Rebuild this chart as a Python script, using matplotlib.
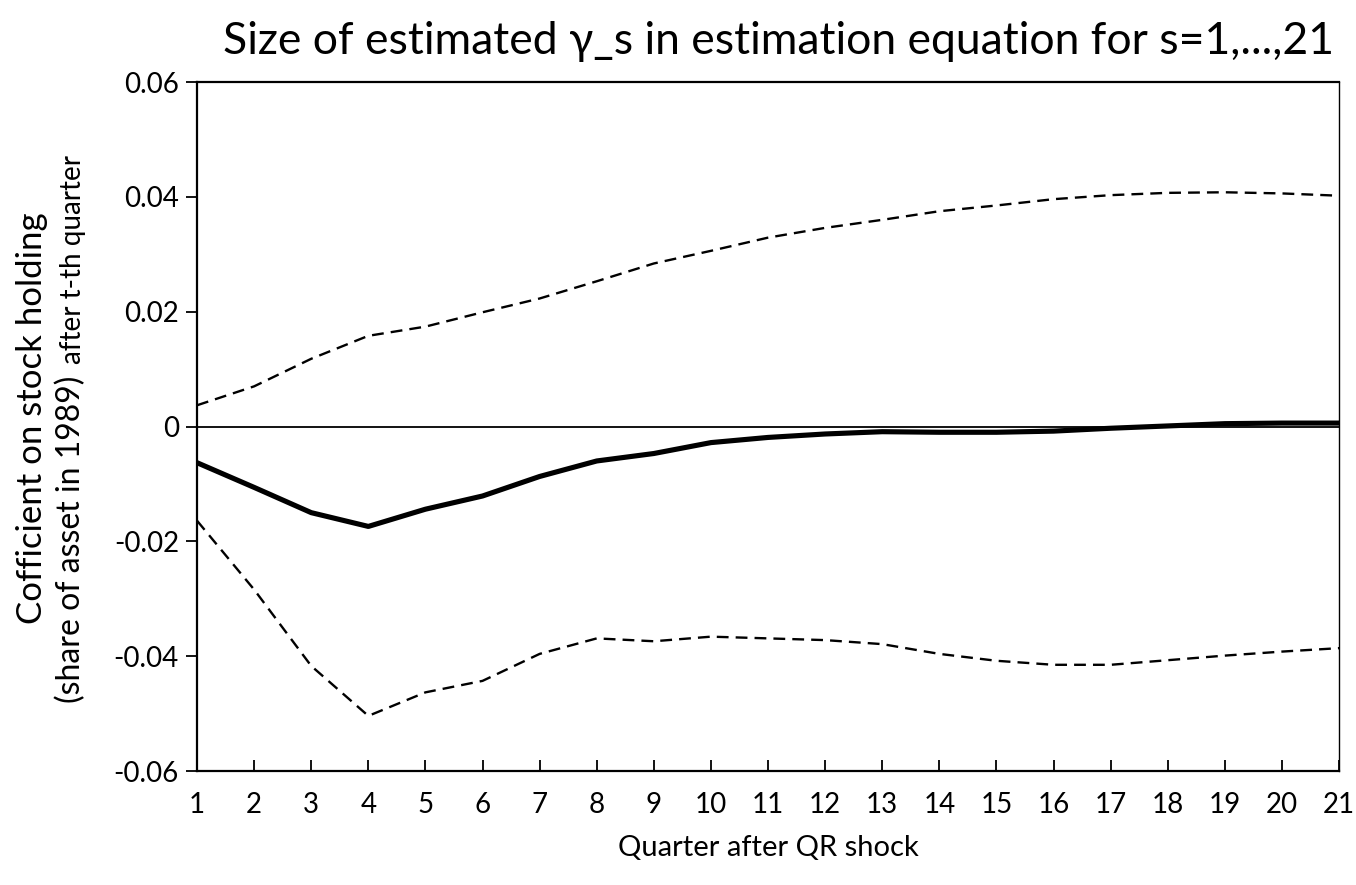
import numpy as np
from matplotlib import pyplot as plt

plt.rcParams['font.family'] = ['Lato', 'DejaVu Sans']

quarters = np.arange(1, 22)
gamma = [-0.0063, -0.0106, -0.0150, -0.0174, -0.0144, -0.0121, -0.0087,
         -0.0060, -0.0047, -0.0028, -0.0019, -0.0013, -0.0009, -0.0010,
         -0.0010, -0.0008, -0.0003, 0.0001, 0.0005, 0.0006, 0.0006]
upper = [0.0037, 0.0070, 0.0118, 0.0158, 0.0174, 0.0199, 0.0223,
         0.0253, 0.0284, 0.0306, 0.0329, 0.0346, 0.0360, 0.0375,
         0.0385, 0.0396, 0.0403, 0.0407, 0.0408, 0.0406, 0.0402]
lower = [-0.0164, -0.0284, -0.0417, -0.0504, -0.0463, -0.0443, -0.0396,
         -0.0369, -0.0374, -0.0366, -0.0369, -0.0372, -0.0379, -0.0396,
         -0.0408, -0.0415, -0.0415, -0.0407, -0.0399, -0.0392, -0.0386]
yticks = [-0.06, -0.04, -0.02, 0, 0.02, 0.04, 0.06]
ytick_labels = ["-0.06", "-0.04", "-0.02", "0", "0.02", "0.04", "0.06"]

fig = plt.figure(figsize=(13.56, 8.85), dpi=100)
ax = fig.add_axes([0.1453, 0.1288, 0.9875 - 0.1453, 0.9073 - 0.1288])

ax.axhline(0, color='black', lw=1.3, zorder=1)
ax.plot(quarters, upper, color='black', lw=1.7, dashes=(5, 3))
ax.plot(quarters, lower, color='black', lw=1.7, dashes=(5, 3))
ax.plot(quarters, gamma, color='black', lw=3.7, solid_joinstyle='round')

ax.set_xlim(1, 21)
ax.set_ylim(-0.06, 0.06)
ax.set_xticks(quarters)
ax.set_xticklabels([str(q) for q in quarters])
ax.set_yticks(yticks)
ax.set_yticklabels(ytick_labels)

for s in ax.spines.values():
    s.set_linewidth(1.6)
ax.spines['right'].set_linewidth(1.0)
ax.tick_params(axis='x', direction='in', length=8, width=1.3, pad=15, labelsize=20)
ax.tick_params(axis='y', direction='out', length=8, width=1.3, pad=5, labelsize=20)

ax.set_xlabel("Quarter after QR shock", fontsize=21, labelpad=12)
fig.text(0.574, 0.953, "Size of estimated \u03b3_s in estimation equation for s=1,...,21",
         ha='center', va='center', fontsize=32)

# y label, two lines, the tail of the second one smaller
fig.text(32 / 1356, 1 - 418 / 885, "Cofficient on stock holding",
         rotation=90, ha='center', va='center', fontsize=25)
fig.text(86 / 1356, 1 - 703 / 885, "(share of asset in 1989)",
         rotation=90, ha='right', va='bottom', fontsize=23)
fig.text(86 / 1356, 1 - 364 / 885, "after t-th quarter",
         rotation=90, ha='right', va='bottom', fontsize=20)

plt.savefig("out.png", dpi=100)
